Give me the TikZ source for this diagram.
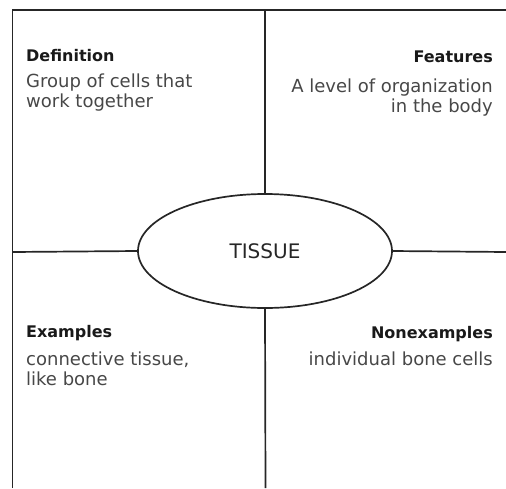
\documentclass[tikz,border=0pt]{standalone}
\usepackage{fontspec}
\setmainfont{DejaVu Sans}
\usetikzlibrary{shapes.geometric}
\begin{document}
\begin{tikzpicture}[x=1pt,y=-1pt,
  frameline/.style={line width=1.7pt,draw=black!85},
  heading/.style={inner sep=0pt,text=black!90,font=\bfseries\fontsize{16}{20}\selectfont},
  bodytext/.style={inner sep=0pt,text=black!72,font=\fontsize{18}{20}\selectfont},
  centerbox/.style={ellipse,draw=black!85,line width=1.7pt,minimum width=254pt,minimum height=114pt,inner sep=0pt,font=\fontsize{20}{24}\selectfont,text=black!85}
]
\useasboundingbox (0,0) rectangle (506,488);
\coordinate (TL) at (12.5,10);
\coordinate (TR) at (506,10);
\coordinate (BL) at (12.5,488);
\coordinate (ML) at (12.5,252);
\coordinate (MR) at (506,252);
\coordinate (MT) at (265,10);
\coordinate (MB) at (265.5,488);
\node[centerbox] (tissue) at (265,251) {TISSUE};
\draw[frameline] (BL) -- (TL) -- (TR);
\draw[frameline] (MT) -- (tissue.north);
\draw[frameline] (tissue.south) -- (MB);
\draw[frameline] (ML) -- (tissue.west);
\draw[frameline] (tissue.east) -- (MR);
\node[heading,anchor=base west] (defh) at (26,61) {Definition};
\node[bodytext,anchor=base west,align=left] (deft) at (26,107) {Group of cells that\\work together};
\node[heading,anchor=base east] (feah) at (493,62.5) {Features};
\node[bodytext,anchor=base east,align=right] (feat) at (493,112) {A level of organization\\in the body};
\node[heading,anchor=base west] (exh) at (26,337) {Examples};
\node[bodytext,anchor=base west,align=left] (ext) at (26,385.5) {connective tissue,\\like bone};
\node[heading,anchor=base east] (nonh) at (493,338) {Nonexamples};
\node[bodytext,anchor=base east,align=right] (nont) at (493,365.5) {individual bone cells};
\end{tikzpicture}
\end{document}
